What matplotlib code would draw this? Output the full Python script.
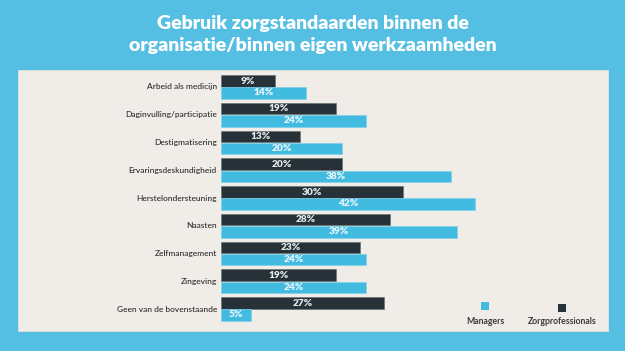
import numpy as np
import matplotlib.pyplot as plt
from matplotlib.patches import Rectangle

categories = ["Arbeid als medicijn", "Daginvulling/participatie", "Destigmatisering",
              "Ervaringsdeskundigheid", "Herstelondersteuning", "Naasten",
              "Zelfmanagement", "Zingeving", "Geen van de bovenstaande"]
zorgprofessionals = [9, 19, 13, 20, 30, 28, 23, 19, 27]
managers = [14, 24, 20, 38, 42, 39, 24, 24, 5]

BG = "#55BEE3"
PANEL = "#F0EDE8"
DARK = "#263238"
LIGHT = "#42BBE1"
FONT = "Lato"

W, H = 625, 351
fig = plt.figure(figsize=(W / 100, H / 100), dpi=100)
fig.patch.set_facecolor(BG)

# light panel behind the chart
fig.patches.append(Rectangle((18 / W, 1 - 331 / H), 590 / W, 261 / H,
                             transform=fig.transFigure, facecolor=PANEL,
                             edgecolor="#E4E1DC", lw=0.6, zorder=-1))

fig.text(0.5, 1 - 23 / H, "Gebruik zorgstandaarden binnen de", ha="center", va="center",
         color="white", fontsize=14, fontweight="heavy", family=FONT)
fig.text(0.5, 1 - 46 / H, "organisatie/binnen eigen werkzaamheden", ha="center", va="center",
         color="white", fontsize=14, fontweight="heavy", family=FONT)

# axes: left edge = bar baseline, pixel-based y range
ax = fig.add_axes([221 / W, 1 - 331 / H, (600 - 221) / W, 261 / H])
ax.set_zorder(2)
ax.set_facecolor("none")
ax.set_xlim(0, (600 - 221) / 6.05)
ax.set_ylim(261, 0)
ax.axis("off")

step = 27.75
h = 11.6
y = 17 + step * np.arange(len(categories))

ax.barh(y - h / 2 - 0.3, zorgprofessionals, height=h, color=DARK,
        edgecolor="#6a7478", linewidth=0.5)
ax.barh(y + h / 2 + 0.3, managers, height=h, color=LIGHT,
        edgecolor="#7fd0ea", linewidth=0.5)

for yi, z, m, cat in zip(y, zorgprofessionals, managers, categories):
    ax.text(z / 2, yi - h / 2, f"{z}%", ha="center", va="center", color="#E4EAEC",
            fontsize=7.3, fontweight="heavy", family=FONT, clip_on=False)
    ax.text(max(m / 2, 1.9), yi + h / 2, f"{m}%", ha="center", va="center", color="#EAF7FC",
            fontsize=7.3, fontweight="heavy", family=FONT, clip_on=False)
    ax.text(-0.7, yi, cat, ha="right", va="center", color="#2a2a2a",
            fontsize=6, fontweight="medium", family=FONT, clip_on=False)

# legend: square above label
for xc, yc, col, lab in [(485, 306, LIGHT, "Managers"), (562, 308, DARK, "Zorgprofessionals")]:
    fig.patches.append(Rectangle(((xc - 4) / W, 1 - (yc + 4) / H), 8 / W, 8 / H,
                                 transform=fig.transFigure, facecolor=col, zorder=3))
    fig.text(xc / W, 1 - 321 / H, lab, ha="center", va="center", color="#3a3a3a",
             fontsize=6.2, fontweight="bold", family=FONT)

fig.savefig("out.png", dpi=100, facecolor=BG)
